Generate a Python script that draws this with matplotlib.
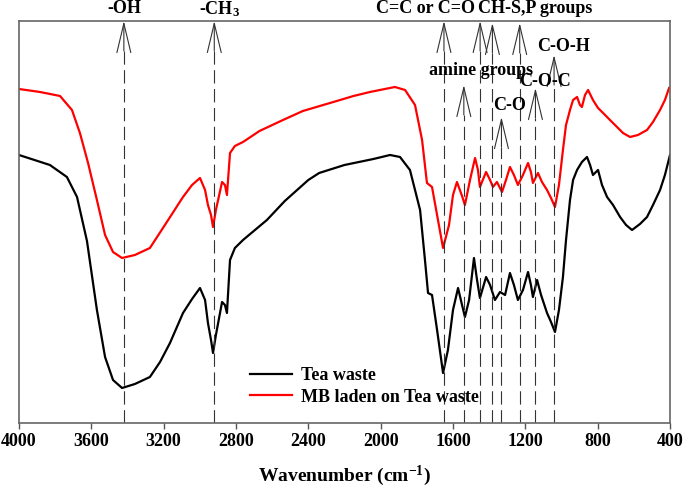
import numpy as np
import matplotlib
matplotlib.use('Agg')
import matplotlib.pyplot as plt

plt.rcParams['font.family'] = ['Liberation Serif', 'DejaVu Serif']
plt.rcParams['font.weight'] = 'bold'
plt.rcParams['mathtext.fontset'] = 'custom'
plt.rcParams['mathtext.rm'] = 'Liberation Serif:bold'
plt.rcParams['mathtext.default'] = 'rm'

# FTIR spectra (arbitrary transmittance units)
tea_wn = [4000, 3829, 3735, 3679, 3624, 3569, 3524, 3480, 3430, 3359, 3276, 3220, 3165, 3093,
          3043, 2999, 2971, 2955, 2938, 2927, 2911, 2877, 2861, 2850, 2833, 2806, 2761, 2629,
          2530, 2400, 2340, 2200, 2040, 1948, 1893, 1838, 1782, 1755, 1738, 1716, 1688, 1655, 1628, 1600,
          1572, 1550, 1534, 1511, 1484, 1467, 1451, 1417, 1395, 1368, 1340, 1312, 1285, 1263,
          1241, 1213, 1185, 1169, 1158, 1135, 1113, 1080, 1058, 1036, 1014, 992, 975, 953,
          936, 914, 887, 859, 842, 826, 798, 776, 748, 715, 676, 643, 610, 566, 527, 494,
          455, 428, 400]
tea_t = [268, 258, 246, 226, 182, 113, 66, 43, 35, 39, 46, 61, 80, 110,
         124, 135, 123, 100, 83, 70, 88, 121, 118, 110, 163, 175, 183, 203,
         222, 243, 250, 258, 264, 268, 266, 253, 213, 163, 130, 128, 93, 50, 73, 113,
         135, 118, 106, 123, 165, 143, 125, 146, 138, 123, 131, 128, 150, 138,
         123, 133, 151, 138, 126, 143, 128, 110, 101, 91, 113, 146, 183, 223,
         243, 253, 261, 266, 258, 248, 253, 238, 226, 218, 206, 198, 193, 199, 206, 218,
         233, 248, 268]

mb_wn = [4000, 3884, 3773, 3707, 3663, 3618, 3569, 3524, 3480, 3430, 3359, 3276, 3193, 3093,
         3043, 2999, 2971, 2955, 2938, 2927, 2911, 2877, 2861, 2850, 2833, 2806, 2761, 2670,
         2540, 2430, 2280, 2150, 2059, 1921, 1865, 1810, 1771, 1744, 1716, 1688, 1655, 1622, 1600, 1578, 1550,
         1534, 1506, 1478, 1462, 1451, 1417, 1395, 1379, 1357, 1329, 1307, 1285, 1263, 1241,
         1213, 1185, 1169, 1158, 1130, 1108, 1080, 1058, 1036, 1014, 992, 975, 953, 936,
         914, 898, 887, 870, 853, 826, 798, 770, 732, 693, 660, 621, 577, 527, 494, 455,
         428, 405]
mb_t = [334, 331, 327, 313, 290, 260, 223, 188, 171, 165, 168, 175, 198, 226,
        238, 245, 233, 218, 208, 196, 213, 241, 238, 228, 270, 277, 281, 292,
        303, 312, 320, 327, 331, 336, 333, 318, 283, 240, 236, 208, 175, 198, 228, 241, 227,
        218, 243, 265, 253, 236, 251, 243, 236, 241, 231, 243, 256, 248, 238,
        248, 260, 251, 240, 250, 241, 233, 225, 216, 238, 273, 298, 313, 323,
        326, 318, 316, 328, 333, 323, 315, 310, 303, 296, 290, 286, 288, 293, 301, 313,
        323, 335]

# band assignments: position, arrow tip height
band_wn = [3420, 2920, 1650, 1540, 1450, 1382, 1332, 1231, 1144, 1041]
band_tip = [402, 402, 402, 338, 402, 400, 306, 400, 335, 368]

# labels: text, x, y
label_text = ['-OH', '-CH$_3$', 'C=C or C=O', 'CH-S,P groups', 'amine groups', 'C-O-H', 'C-O-C', 'C-O']
label_x = [3419, 2889, 1752, 1143, 1445, 986, 1091, 1285]
label_y = [414, 414, 414, 414, 352, 376, 341, 317]

fig = plt.figure(figsize=(6.85, 4.88), dpi=100)
ax = fig.add_axes([0.0277, 0.1332, 0.9504, 0.8238])

ax.plot(tea_wn, tea_t, color='black', lw=1.6, label='Tea waste')
ax.plot(mb_wn, mb_t, color='#ff0000', lw=1.6, label='MB laden on Tea waste')

head = 30
for wn, tip in zip(band_wn, band_tip):
    ax.vlines(wn, 0, tip - head, colors='#333333', lw=0.8, linestyles=(0, (12, 5)))
    ax.annotate('', xy=(wn, tip), xytext=(wn, tip - head),
                arrowprops=dict(arrowstyle='->,head_length=2.1,head_width=0.5',
                                mutation_scale=10, color='#333333', lw=0.8,
                                shrinkA=0, shrinkB=0),
                annotation_clip=False)

for t, x, y in zip(label_text, label_x, label_y):
    ax.text(x, y, t, ha='center', va='center', fontsize=13, fontweight='bold', clip_on=False)

ax.set_xlim(4000, 400)
ax.set_ylim(0, 402)
ax.set_xticks(np.arange(4000, 399, -400))
ax.set_yticks([])
ax.tick_params(axis='x', direction='out', length=4, width=1, labelsize=13, pad=3, colors='#555555',
               labelcolor='black')
for s in ax.spines.values():
    s.set_color('#666666')
    s.set_linewidth(1.2)
ax.set_xlabel('Wavenumber (cm$^{-1}$)', fontsize=14, fontweight='bold', labelpad=10)

ax.legend(loc='center left', bbox_to_anchor=(0.355, 0.091), frameon=False, fontsize=13,
          handlelength=2.3, handletextpad=0.5, labelspacing=0.25, borderpad=0, borderaxespad=0)

fig.savefig('out.png', dpi=100)
